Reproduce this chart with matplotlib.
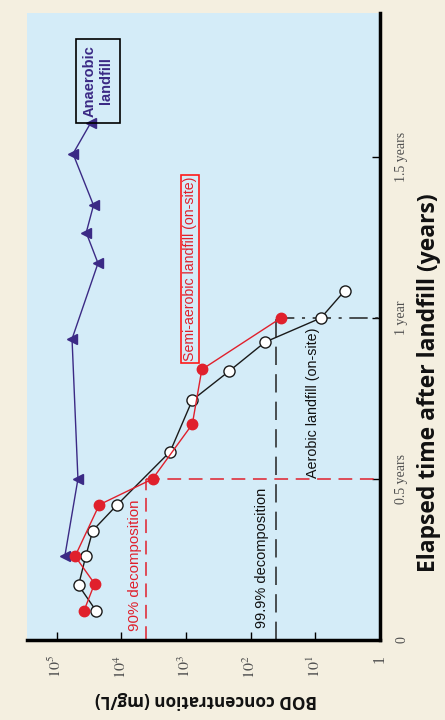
import matplotlib
matplotlib.use("Agg")
import matplotlib.pyplot as plt
import numpy as np

plt.rcParams['mathtext.fontset'] = 'stix'

# ---- data (time in years, BOD in mg/L) ----
anaerobic_t = [0.26, 0.50, 0.935, 1.17, 1.265, 1.35, 1.51, 1.605]
anaerobic_bod = [75000, 47000, 58000, 23000, 35000, 27000, 56000, 30000]

semi_t = [0.09, 0.175, 0.26, 0.42, 0.50, 0.67, 0.84, 1.0]
semi_bod = [38000, 26000, 52000, 22000, 3300, 800, 570, 34]

aerobic_t = [0.09, 0.17, 0.26, 0.34, 0.42, 0.585, 0.745, 0.835, 0.925, 1.0, 1.085]
aerobic_bod = [24500, 46000, 35600, 27700, 11600, 1760, 800, 215, 60, 8.2, 3.5]

decomp90_bod = 4200
decomp90_t = 0.5
decomp999_bod = 40
decomp999_t = 1.0

bod_ticks = [1e5, 1e4, 1e3, 1e2, 1e1, 1]
bod_ticklabels = ['$10^5$', '$10^4$', '$10^3$', '$10^2$', '$10^1$', '1']
time_ticks = [0, 0.5, 1.0, 1.5]
time_ticklabels = ['0', '0.5 years', '1 year', '1.5 years']

# ---- figure ----
fig = plt.figure(figsize=(4.45, 7.2), dpi=100)
fig.patch.set_facecolor('#f4efe0')
ax = fig.add_axes([27/445, 1-640/720, (380-27)/445, (640-13)/720])
ax.set_facecolor('#d4ecf8')

ax.set_xscale('log')
ax.set_xlim(10**5.46, 1)
ax.set_ylim(0, 1.947)

purple = '#3b2a85'
red = '#e0202c'

# reference lines
ax.plot([decomp90_bod, decomp90_bod], [0, decomp90_t], color=red, lw=1.1,
        linestyle=(0, (9, 5)), zorder=2)
ax.plot([decomp90_bod, 1], [decomp90_t, decomp90_t], color=red, lw=1.1,
        linestyle=(0, (9, 5)), zorder=2)
ax.plot([decomp999_bod, decomp999_bod], [0, decomp999_t], color='#222222', lw=1.1,
        linestyle=(0, (12, 6)), zorder=2)
ax.plot([decomp999_bod, 1], [decomp999_t, decomp999_t], color='#222222', lw=1.1,
        linestyle=(0, (12, 5, 2, 5)), zorder=2)

# series
ax.plot(anaerobic_bod, anaerobic_t, color=purple, lw=1.0, marker='<',
        markersize=7, markerfacecolor=purple, markeredgecolor=purple, zorder=3)
ax.plot(aerobic_bod, aerobic_t, color='#1a1a1a', lw=1.0, marker='o',
        markersize=8, markerfacecolor='white', markeredgecolor='#1a1a1a',
        markeredgewidth=1.0, zorder=4)
ax.plot(semi_bod, semi_t, color=red, lw=1.0, marker='o',
        markersize=7.5, markerfacecolor=red, markeredgecolor=red, zorder=5)

# spines & ticks
for s in ['top', 'left']:
    ax.spines[s].set_visible(False)
for s in ['bottom', 'right']:
    ax.spines[s].set_linewidth(2.5)
    ax.spines[s].set_color('black')

ax.minorticks_off()
ax.set_xticks(bod_ticks)
ax.set_xticklabels(bod_ticklabels)
ax.tick_params(axis='x', which='minor', bottom=False)
ax.tick_params(axis='x', direction='in', length=6, width=1, pad=11,
               labelsize=11.5, labelcolor='#505050', labelrotation=90)
for lb in ax.get_xticklabels():
    lb.set_fontfamily('Liberation Serif')

ax.yaxis.tick_right()
ax.set_yticks(time_ticks)
ax.set_yticklabels(time_ticklabels)
ax.tick_params(axis='y', direction='in', length=6, width=1, pad=11,
               labelsize=10, labelcolor='#505050', left=False, right=True)
for lb in ax.get_yticklabels():
    lb.set_fontfamily('Liberation Serif')
    lb.set_rotation(90)
    lb.set_va('center')

# annotations
ax.text(98/445, 1-81/720, 'Anaerobic\nlandfill', transform=fig.transFigure,
        rotation=90, ha='center', va='center', color=purple, fontsize=10.5,
        fontweight='bold', family='Liberation Sans', linespacing=1.25,
        bbox=dict(boxstyle='square,pad=0.45', facecolor='none',
                  edgecolor='black', linewidth=1.2))
ax.text(190/445, 1-269/720, 'Semi-aerobic landfill (on-site)', transform=fig.transFigure,
        rotation=90, ha='center', va='center', color=red, fontsize=10.2,
        family='Liberation Sans',
        bbox=dict(boxstyle='square,pad=0.12', facecolor='none',
                  edgecolor='#ff1a1a', linewidth=1.2))
ax.text(313/445, 1-403/720, 'Aerobic landfill (on-site)', transform=fig.transFigure,
        rotation=90, ha='center', va='center', color='#111111', fontsize=10.3,
        family='Liberation Sans')
ax.text(135/445, 1-565/720, '90% decomposition', transform=fig.transFigure,
        rotation=90, ha='center', va='center', color=red, fontsize=10.8,
        family='Liberation Sans')
ax.text(262/445, 1-558/720, '99.9% decomposition', transform=fig.transFigure,
        rotation=90, ha='center', va='center', color='#111111', fontsize=10.5,
        family='Liberation Sans')

fig.text(206/445, 1-700/720, 'BOD concentration (mg/L)', rotation=180,
         ha='center', va='center', fontsize=12.3, fontweight='bold',
         family='Open Sans', color='#111111')
fig.text(429/445, 1-383/720, 'Elapsed time after landfill (years)', rotation=90,
         ha='center', va='center', fontsize=16.5, fontweight='bold',
         family='Open Sans', color='#111111')

fig.savefig('out.png', dpi=100, facecolor=fig.get_facecolor())
